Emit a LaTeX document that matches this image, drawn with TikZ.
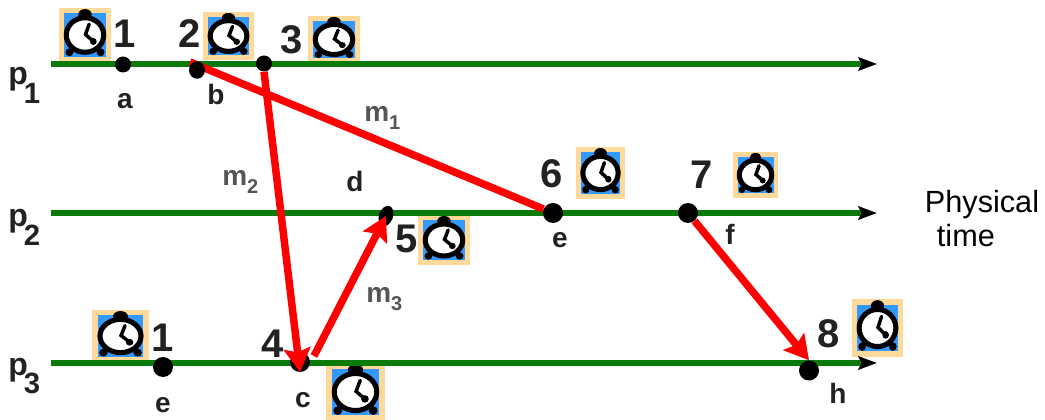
\documentclass[tikz,border=0pt]{standalone}
\usepackage{fontspec}
\setmainfont{Liberation Sans}
\usepackage{tikz}
\usetikzlibrary{arrows.meta,backgrounds,shapes.geometric}
\definecolor{timeline}{HTML}{0A7A0A}
\definecolor{msgred}{HTML}{FF0000}
\definecolor{clockbg}{HTML}{3399FF}
\definecolor{clockframe}{HTML}{FFD999}
\definecolor{ink}{HTML}{222222}
\definecolor{msglabel}{HTML}{555555}

\begin{document}
\begin{tikzpicture}[
  x=0.75pt, y=-0.75pt,
  proc/.style={line width=4pt, timeline, -{Stealth[black, length=14pt, width=10pt, inset=2.5pt]}},
  msgline/.style={line width=5.6pt, msgred},
  msg/.style={msgline, -{Stealth[length=18pt, width=20pt, inset=3pt]}},
  evt/.style={circle, fill=black, inner sep=0pt, minimum size=#1*0.75pt},
  num/.style={font=\fontsize{30}{30}\selectfont\bfseries, text=ink, inner sep=0pt},
  lab/.style={font=\fontsize{21}{21}\selectfont\bfseries, text=ink, inner sep=0pt},
  mlab/.style={font=\fontsize{21}{21}\selectfont\bfseries, text=msglabel, inner sep=0pt, anchor=base west},
  plab/.style={font=\fontsize{24}{24}\selectfont\bfseries, text=ink, inner sep=0pt, anchor=base west},
  clock/.pic={
    \fill[clockframe] (-1,-1) rectangle (1,1);
    \fill[clockbg] (-0.8,-0.8) rectangle (0.8,0.8);
    \fill[black] (0,-0.76) ellipse (0.26 and 0.2);
    \fill[black] (-0.6,0.64) circle (0.15);
    \fill[black] (0.6,0.64) circle (0.15);
    \draw[black, line width=3.8pt, fill=white] (0,0) ellipse (0.72 and 0.64);
    \draw[black, line width=2.6pt, line cap=round]
      (0.16,-0.4) -- (0.02,-0.02) -- (0.32,0.24);
    \fill[black] (0.32,0.24) circle (0.13);
  }
]
  \useasboundingbox (0,0) rectangle (1045,420);

  % Events
  \node[evt=16] (a) at (123,64.5) {};
  \node[ellipse, fill=black, inner sep=0pt, minimum width=16*0.75pt, minimum height=17.5*0.75pt] (b) at (197,70) {};
  \node[evt=16] (b2) at (264,63.5) {};
  \node[ellipse, fill=black, inner sep=0pt, minimum width=14*0.75pt, minimum height=21*0.75pt, rotate=-20] (d) at (386,216) {};
  \node[evt=20] (e) at (553,213) {};
  \node[evt=20] (f) at (688,213) {};
  \node[evt=20] (e3) at (163,367) {};
  \node[evt=20] (c) at (300,362) {};
  \node[evt=20] (h) at (809,370.5) {};
  \coordinate (m1s) at (190,62);
  \coordinate (m3s) at (314,356);

  % Processes and clocks
  \coordinate (p1s) at (51,64);
  \coordinate (p1e) at (877,64);
  \coordinate (p2s) at (51,213);
  \coordinate (p2e) at (877,213);
  \coordinate (p3s) at (51,363);
  \coordinate (p3e) at (877,363);
  \begin{scope}[on background layer]
    \pic[xscale=26, yscale=27] at (85,35) {clock};
    \pic[xscale=25.5, yscale=24] at (228.5,36) {clock};
    \pic[xscale=26, yscale=23.5] at (334,39.5) {clock};
    \pic[xscale=24.5, yscale=26] at (600.5,173) {clock};
    \pic[xscale=22.5, yscale=23] at (755.5,175) {clock};
    \pic[xscale=26, yscale=25] at (444,240) {clock};
    \pic[xscale=28.5, yscale=26] at (120.5,336) {clock};
    \pic[xscale=29.5, yscale=29] at (355.5,392) {clock};
    \pic[xscale=25.5, yscale=29] at (877.5,328) {clock};
    \draw[proc] (p1s) -- (p1e);
    \draw[proc] (p2s) -- (p2e);
    \draw[proc] (p3s) -- (p3e);
    \draw[msgline] (m1s) -- (e);
  \end{scope}

  % Messages
  \draw[msg] (b2.south) -- (c.south);
  \draw[msg] (m3s) -- (d.center);
  \draw[msg] (f) -- (h.north);

  % Labels
  \node[num] (n1) at (125,34) {1};
  \node[num] (n2) at (190,34) {2};
  \node[num] (n3) at (292,40) {3};
  \node[num] (n6) at (552,174) {6};
  \node[num] (n7) at (702,175) {7};
  \node[num] (n5) at (407,239) {5};
  \node[num] (n1b) at (163,338) {1};
  \node[num] (n4) at (273,344) {4};
  \node[num] (n8) at (829,334) {8};
  \node[lab] (la) at (125,101) {a};
  \node[lab] (lb) at (216,94) {b};
  \node[lab] (ld) at (355,181) {d};
  \node[lab] (le) at (560,240.5) {e};
  \node[lab] (lf) at (730,234) {f};
  \node[lab] (le3) at (163,405) {e};
  \node[lab] (lc) at (303,400) {c};
  \node[lab] (lh) at (838,393) {h};
  \node[plab] (p1) at (8,85) {p\kern-3pt\raisebox{-14pt}{\fontsize{22}{22}\selectfont 1}};
  \node[plab] (p2) at (8,227) {p\kern-3pt\raisebox{-14pt}{\fontsize{22}{22}\selectfont 2}};
  \node[plab] (p3) at (8,375) {p\kern-3pt\raisebox{-14pt}{\fontsize{22}{22}\selectfont 3}};
  \node[mlab] (m1) at (364,122) {m\raisebox{-6pt}{\fontsize{15}{15}\selectfont 1}};
  \node[mlab] (m2) at (222,186) {m\raisebox{-6pt}{\fontsize{15}{15}\selectfont 2}};
  \node[mlab] (m3) at (366,302) {m\raisebox{-6pt}{\fontsize{15}{15}\selectfont 3}};
  \node[font=\fontsize{23}{25.5}\selectfont, align=left, inner sep=0pt] (ptime) at (982,219) {Physical\\\kern9pt time};
\end{tikzpicture}
\end{document}
